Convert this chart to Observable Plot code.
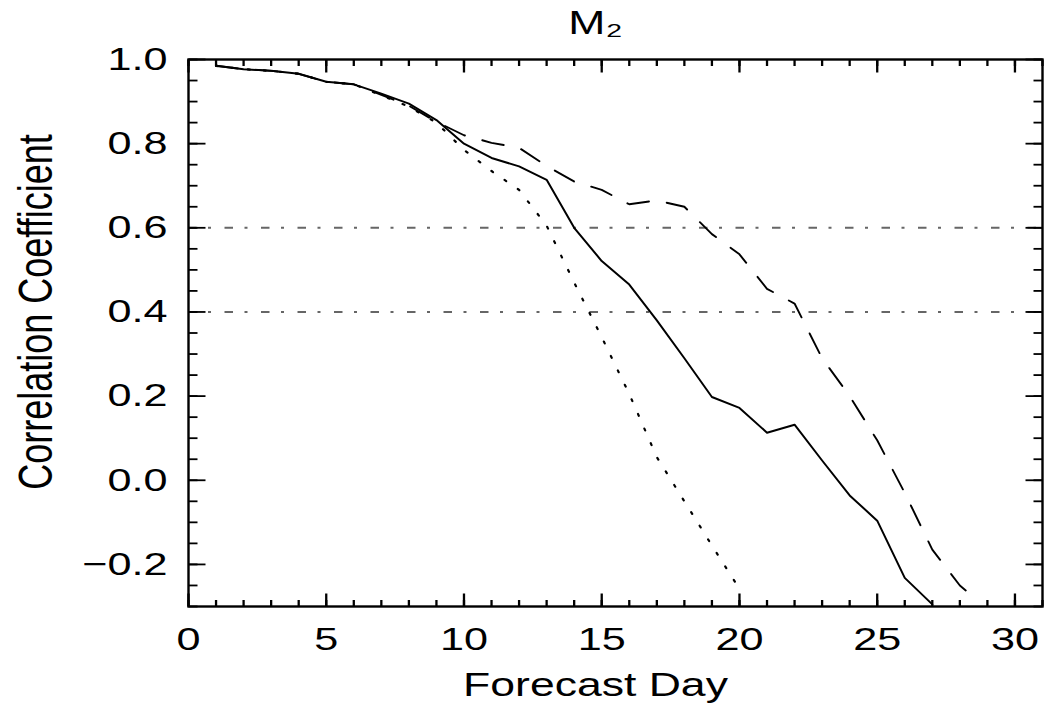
<!DOCTYPE html>
<html>
<head>
<meta charset="utf-8">
<script src="https://cdn.jsdelivr.net/npm/d3@7"></script>
<script src="https://cdn.jsdelivr.net/npm/@observablehq/plot@0.6"></script>
<style>
  html, body { margin: 0; padding: 0; background: #fff; }
  #chart { width: 1045px; height: 706px; overflow: hidden; }
</style>
</head>
<body>
<div id="chart"></div>
<script>
// ---- data ----
const title = "M₂";
const xLabel = "Forecast Day";
const yLabel = "Correlation Coefficient";

const solidDays = [1,2,3,4,5,6,7,8,9,10,11,12,13,14,15,16,17,18,19,20,21,22,23,24,25,26,27];
const solidValues = [0.985,0.977,0.973,0.966,0.947,0.941,0.919,0.895,0.856,0.800,0.766,0.746,0.714,0.600,0.521,0.465,0.380,0.290,0.198,0.172,0.113,0.132,0.047,-0.036,-0.096,-0.232,-0.295];

const dashedDays = [1,2,3,4,5,6,7,8,9,10,11,12,13,14,15,16,17,18,19,20,21,22,23,24,25,26,27,28,28.4];
const dashedValues = [0.985,0.977,0.973,0.966,0.947,0.941,0.916,0.890,0.852,0.820,0.802,0.790,0.747,0.710,0.690,0.656,0.665,0.650,0.585,0.537,0.455,0.420,0.290,0.200,0.095,-0.030,-0.165,-0.250,-0.272];

const dottedDays = [1,2,3,4,5,6,7,8,9,10,11,12,13,14,15,16,17,18,19,20];
const dottedValues = [0.985,0.977,0.973,0.966,0.947,0.941,0.915,0.888,0.850,0.785,0.735,0.690,0.605,0.470,0.340,0.205,0.055,-0.050,-0.155,-0.258];

const refLevels = [0.6, 0.4];

const xDomain = [0, 31];
const yDomain = [-0.3, 1.0];
const xMajorTicks = [0,5,10,15,20,25,30];
const xMinorTicks = d3.range(0, 32, 1);
const yMajorTicks = [-0.2,0.0,0.2,0.4,0.6,0.8,1.0];
const yMinorTicks = d3.range(-6, 21).map(i => i * 0.05);

// ---- layout ----
const W = 1045, H = 706;
const mL = 188, mR = 3, mT = 59, mB = 100;
const innerW = W - mL - mR, innerH = H - mT - mB;
const xTickMajor = 13, xTickMinor = 6.5;   // vertical tick lengths (px)
const yTickMajor = 17, yTickMinor = 9;     // horizontal tick lengths (px)
const textStretch = 1.35;                  // the reference's lettering is horizontally wide
const yPerPx = (yDomain[1] - yDomain[0]) / innerH;
const xPerPx = (xDomain[1] - xDomain[0]) / innerW;

const toRows = (days, vals) => days.map((d, i) => ({day: d, r: vals[i]}));
const solid = toRows(solidDays, solidValues);
const dashed = toRows(dashedDays, dashedValues);
const dotted = toRows(dottedDays, dottedValues);

// inward tick segments as two-point line series (one series per tick)
let tickId = 0;
const xTickSegs = (ticks, len) => ticks.flatMap(t => {
  const a = tickId++, b = tickId++;
  return [
    {x: t, y: yDomain[0], id: a}, {x: t, y: yDomain[0] + len * yPerPx, id: a},
    {x: t, y: yDomain[1] - len * yPerPx, id: b}, {x: t, y: yDomain[1], id: b}
  ];
});
const yTickSegs = (ticks, len) => ticks.flatMap(t => {
  const a = tickId++, b = tickId++;
  return [
    {x: xDomain[0], y: t, id: a}, {x: xDomain[0] + len * xPerPx, y: t, id: a},
    {x: xDomain[1] - len * xPerPx, y: t, id: b}, {x: xDomain[1], y: t, id: b}
  ];
});
const xTickRows = [...xTickSegs(xMajorTicks, xTickMajor), ...xTickSegs(xMinorTicks, xTickMinor)];
const yTickRows = [...yTickSegs(yMajorTicks, yTickMajor), ...yTickSegs(yMinorTicks, yTickMinor)];

const chart = Plot.plot({
  width: W, height: H,
  marginLeft: mL, marginRight: mR, marginTop: mT, marginBottom: mB,
  style: {fontFamily: "'Liberation Sans', Arial, sans-serif", fontSize: "32px"},
  x: {domain: xDomain},
  y: {domain: yDomain},
  marks: [
    Plot.ruleY(refLevels, {y: d => d, stroke: "#666", strokeWidth: 2, strokeDasharray: "8.5,11.5,3,13.5"}),
    Plot.line(dotted, {x: "day", y: "r", stroke: "#000", strokeWidth: 2.2, strokeDasharray: "2,14"}),
    Plot.line(dashed, {x: "day", y: "r", stroke: "#000", strokeWidth: 1.9, strokeDasharray: "22,18"}),
    Plot.line(solid, {x: "day", y: "r", stroke: "#000", strokeWidth: 2}),
    Plot.line(xTickRows, {x: "x", y: "y", z: "id", stroke: "#000", strokeWidth: 2.3, strokeLinecap: "butt"}),
    Plot.line(yTickRows, {x: "x", y: "y", z: "id", stroke: "#000", strokeWidth: 1.8, strokeLinecap: "butt"}),
    Plot.axisX(xMajorTicks, {anchor: "bottom", tickSize: 0, tickPadding: 21, tickFormat: d3.format("d"), label: null}),
    Plot.axisY(yMajorTicks, {anchor: "left", tickSize: 0, tickPadding: 21, tickFormat: d3.format(".1f"), label: null}),
    Plot.frame({stroke: "#000", strokeWidth: 2.4}),
    Plot.text([title], {frameAnchor: "top", dy: -36, dx: -20, fontSize: 33, lineAnchor: "middle"}),
    Plot.text([xLabel], {frameAnchor: "bottom", dy: 79, dx: -20, fontSize: 33, lineAnchor: "middle"}),
    Plot.text([yLabel], {frameAnchor: "left", rotate: -90, dx: -152, dy: -21, fontSize: 36, lineAnchor: "middle", textAnchor: "middle"})
  ]
});

// widen the lettering horizontally about each label's own anchor point
d3.select(chart).selectAll("text").each(function () {
  const t = this.getAttribute("transform") || "";
  this.setAttribute("transform", /rotate/.test(t) ? `${t} scale(1,${textStretch})` : `${t} scale(${textStretch},1)`);
});

document.getElementById("chart").appendChild(chart);
</script>
</body>
</html>
